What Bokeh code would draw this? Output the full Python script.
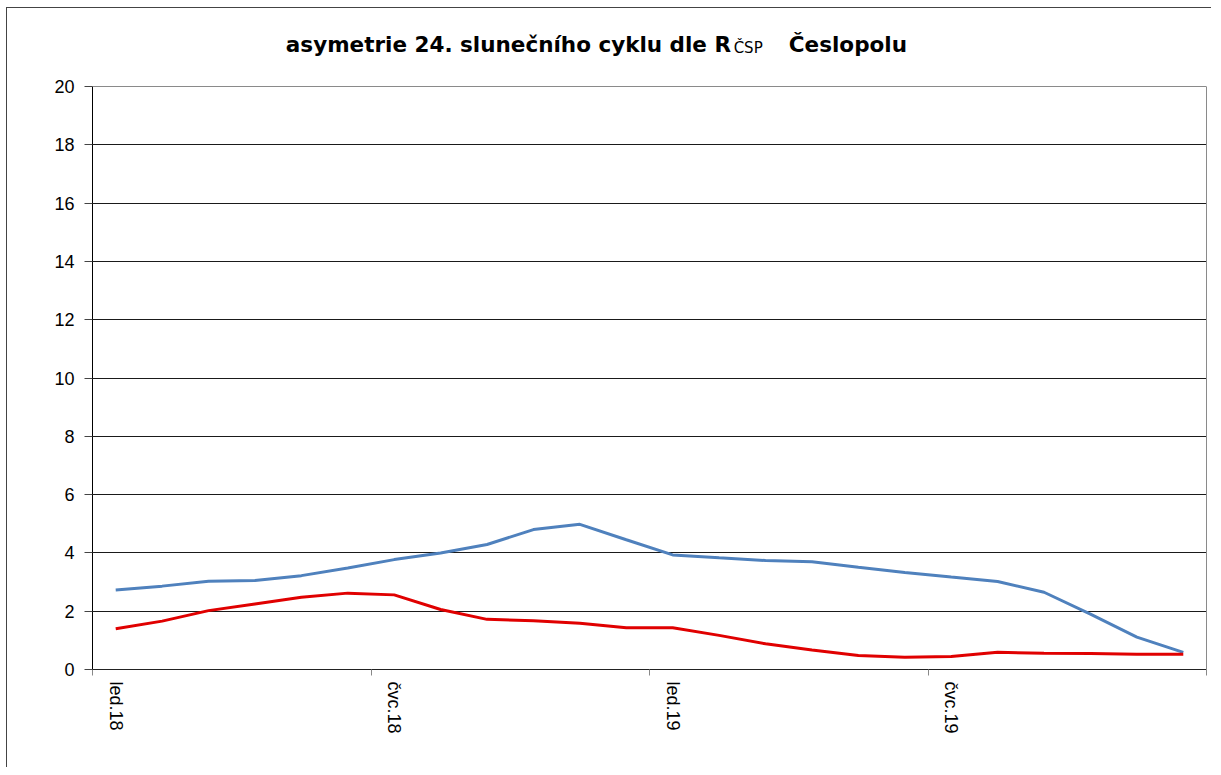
from bokeh.plotting import figure
from bokeh.models import FixedTicker, Range1d, Label, Grid, LinearAxis
from bokeh.embed import file_html
from bokeh.resources import INLINE

# ---- data ----
months = ["led.18", "úno.18", "bře.18", "dub.18", "kvě.18", "čvn.18",
          "čvc.18", "srp.18", "zář.18", "říj.18", "lis.18", "pro.18",
          "led.19", "úno.19", "bře.19", "dub.19", "kvě.19", "čvn.19",
          "čvc.19", "srp.19", "zář.19", "říj.19", "lis.19", "pro.19"]
blue_series = [2.73, 2.86, 3.03, 3.05, 3.22, 3.48, 3.77, 4.00, 4.29, 4.80, 4.98, 4.45,
               3.93, 3.83, 3.74, 3.70, 3.51, 3.33, 3.17, 3.02, 2.65, 1.90, 1.11, 0.59]
red_series = [1.40, 1.66, 2.02, 2.25, 2.48, 2.62, 2.56, 2.06, 1.72, 1.67, 1.59, 1.43,
              1.43, 1.17, 0.88, 0.67, 0.48, 0.42, 0.45, 0.59, 0.56, 0.55, 0.52, 0.52]
y_ticks = [0, 2, 4, 6, 8, 10, 12, 14, 16, 18, 20]
y_max = 20
label_step = 6
title_main = "asymetrie 24. slunečního  cyklu dle R"
title_sub = "ČSP"
title_tail = "Česlopolu"

# month slots: each month occupies [k, k+1], point at the middle
n = len(months)
x = [k + 0.5 for k in range(n)]

FONT = "Liberation Sans"
TITLE_FONT = "DejaVu Sans"
PX_PER_MONTH = 1112 / n          # frame width / months
PX_PER_UNIT = 583 / y_max        # frame height of value range / 20


def xd(page_x):
    return (page_x - 92) / PX_PER_MONTH


def yd(page_y):
    return y_max + (86 - page_y) / PX_PER_UNIT


# frame extends above the value range so the title sits inside it
p = figure(width=1205, height=760, output_backend="svg", toolbar_location=None,
           x_range=Range1d(0, n), y_range=Range1d(0, yd(18)),
           min_border_left=85, min_border_right=6, min_border_top=10,
           min_border_bottom=99)
p.styles = {"margin-left": "6px", "margin-top": "7px",
            "border-left": "1px solid #444444", "border-top": "1px solid #444444"}

p.outline_line_color = None
p.background_fill_color = "white"
p.border_fill_color = "white"

p.line(x, blue_series, line_color="#4F81BD", line_width=3)
p.line(x, red_series, line_color="#E00000", line_width=3)

# x axis: labels at slot centre every 6 months, tick marks at slot boundaries
major = [x[i] for i in range(0, n, label_step)]
minor = [float(i) for i in range(0, n + 1, label_step)]
p.xaxis.ticker = FixedTicker(ticks=major, minor_ticks=minor)
p.xaxis.major_label_overrides = {x[i]: months[i] for i in range(0, n, label_step)}
p.xaxis.major_label_orientation = "vertical"
p.xaxis.major_tick_out = 0
p.xaxis.major_tick_in = 0
p.xaxis.minor_tick_out = 6
p.xaxis.minor_tick_in = 0
p.xaxis.minor_tick_line_color = "#888888"
p.xaxis.axis_line_color = "#222222"
p.xaxis.major_label_standoff = 6
p.xaxis.major_label_text_font = FONT
p.xaxis.major_label_text_font_size = "18px"
p.xaxis.major_label_text_color = "black"
p.xgrid.visible = False

# y axis
p.yaxis.ticker = FixedTicker(ticks=y_ticks)
p.yaxis.bounds = (0, y_max)
p.yaxis.major_tick_out = 8
p.yaxis.major_tick_in = 0
p.yaxis.minor_tick_line_color = None
p.yaxis.axis_line_color = "black"
p.yaxis.major_tick_line_color = "#444444"
p.yaxis.major_label_standoff = 10
p.yaxis.major_label_text_font = FONT
p.yaxis.major_label_text_font_size = "18px"
p.yaxis.major_label_text_color = "black"
p.ygrid.ticker = FixedTicker(ticks=y_ticks[1:-1])
p.ygrid.grid_line_color = "#1a1a1a"
p.ygrid.grid_line_width = 1

# grey plot-area border (top and right)
p.add_layout(Grid(dimension=1, ticker=FixedTicker(ticks=[y_max]),
                  grid_line_color="#8a8a8a", grid_line_width=1))
right_axis = LinearAxis(bounds=(0, y_max), ticker=FixedTicker(ticks=[]),
                        axis_line_color="#8a8a8a", major_tick_line_color=None,
                        minor_tick_line_color=None, major_label_text_font_size="0px",
                        major_label_standoff=0)
p.add_layout(right_axis, "right")

# title with subscript
p.add_layout(Label(x=xd(285), y=yd(44), text=title_main,
                   text_align="left", text_baseline="alphabetic",
                   text_font=TITLE_FONT, text_font_style="bold", text_font_size="21.5px",
                   text_color="black"))
p.add_layout(Label(x=xd(732), y=yd(47), text=title_sub,
                   text_align="left", text_baseline="alphabetic",
                   text_font=TITLE_FONT, text_font_size="15px", text_color="black"))
p.add_layout(Label(x=xd(905), y=yd(44), text=title_tail,
                   text_align="right", text_baseline="alphabetic",
                   text_font=TITLE_FONT, text_font_style="bold", text_font_size="21.5px",
                   text_color="black"))

open("out.html", "w").write(file_html(p, INLINE))
